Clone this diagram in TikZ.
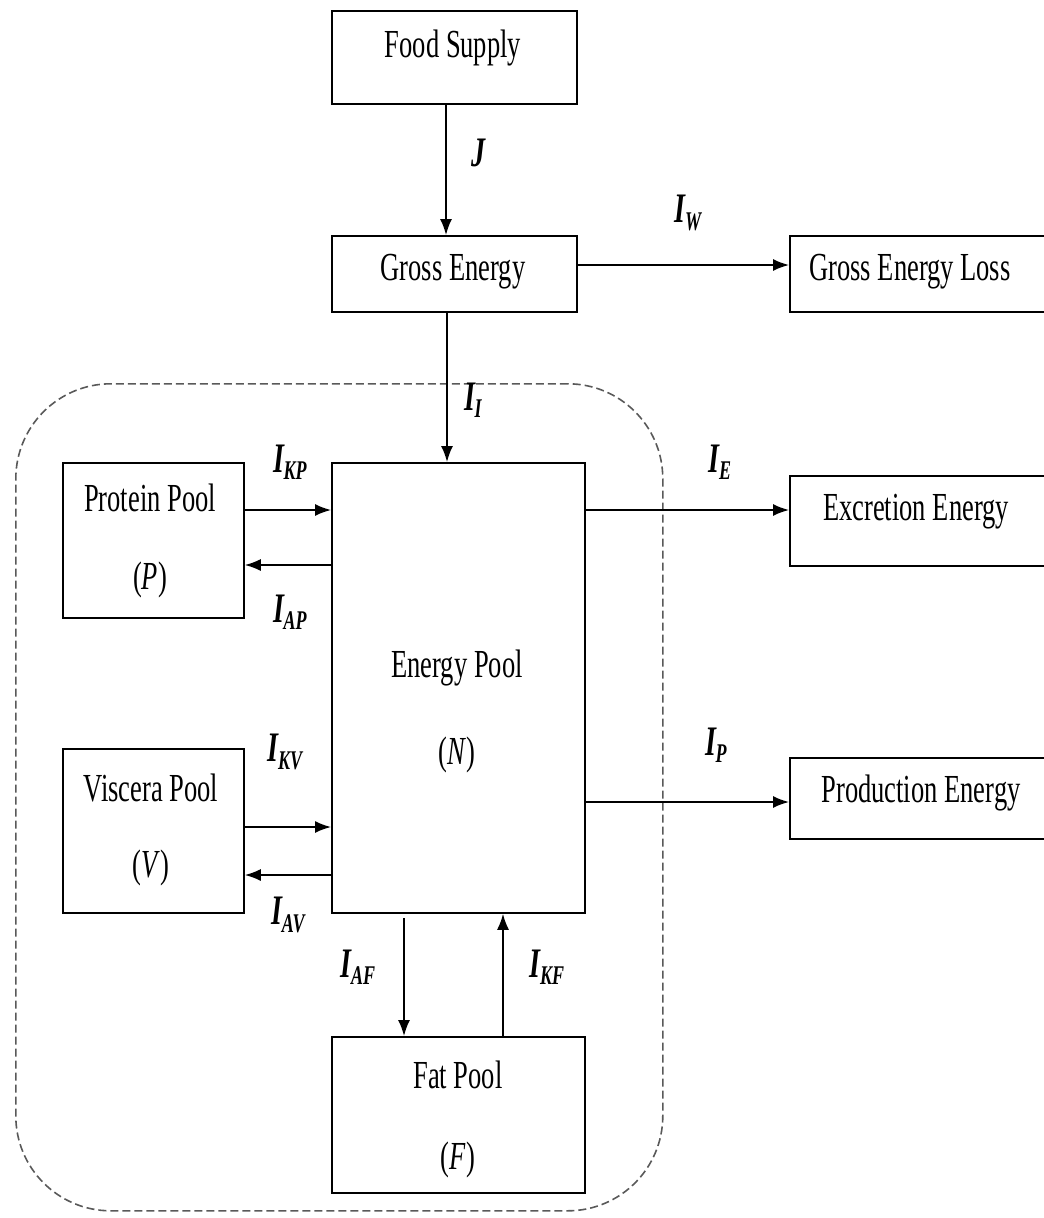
\documentclass[tikz,border=0pt]{standalone}
\usepackage{fontspec}
\setmainfont{Liberation Serif}
\usetikzlibrary{arrows.meta}
\newcommand\tx[1]{\scalebox{1}[1.5]{#1}}
\newcommand\flab[2]{\scalebox{1}[1.5]{\fontsize{28}{30}\selectfont\bfseries\itshape #1\kern-0.5pt\raisebox{-5pt}{\fontsize{18}{18}\selectfont\bfseries\itshape #2}}}
\begin{document}
\begin{tikzpicture}[x=1pt,y=-1pt,
  font=\fontsize{26.5}{30}\selectfont,
  box/.style={draw, line width=1.8pt, inner sep=0pt, anchor=north west},
  txt/.style={inner sep=0pt},
  arr/.style={line width=1.6pt, -{Latex[length=16pt,width=12pt]}},
  grp/.style={draw=black!65, line width=1.6pt, dash pattern=on 8pt off 4pt, rounded corners=95pt, inner sep=0pt, anchor=north west}]
\clip (0,0) rectangle (1044,1218);
% group
\node[grp, minimum width=647pt, minimum height=827pt] (group) at (15,383) {};
% boxes
\node[box, minimum width=245pt, minimum height=93pt] (food) at (331,10) {};
\node[box, minimum width=245pt, minimum height=76pt] (gross) at (331,235) {};
\node[box, minimum width=270pt, minimum height=76pt] (loss) at (789,235) {};
\node[box, minimum width=253pt, minimum height=450pt] (energy) at (331,462) {};
\node[box, minimum width=181pt, minimum height=155pt] (protein) at (62,462) {};
\node[box, minimum width=181pt, minimum height=164pt] (viscera) at (62,748) {};
\node[box, minimum width=253pt, minimum height=156pt] (fat) at (331,1036) {};
\node[box, minimum width=270pt, minimum height=90pt] (excr) at (789,475) {};
\node[box, minimum width=270pt, minimum height=81pt] (prod) at (789,757) {};
% texts
\node[txt] (tfood) at (453,48) {\tx{Food Supply}};
\node[txt] (tgross) at (453,272) {\tx{Gross Energy}};
\node[txt] (tloss) at (910,272) {\tx{Gross Energy Loss}};
\node[txt] (tenergy) at (457,668) {\tx{Energy Pool}};
\node[txt] (tN) at (457,755) {\tx{(\textit{N})}};
\node[txt] (tprot) at (150,498) {\tx{Protein Pool}};
\node[txt] (tP) at (150,580) {\tx{(\textit{P})}};
\node[txt] (tvisc) at (151,788) {\tx{Viscera Pool}};
\node[txt] (tV) at (151,868) {\tx{(\textit{V})}};
\node[txt] (tfat) at (458,1075) {\tx{Fat Pool}};
\node[txt] (tF) at (458,1160) {\tx{(\textit{F})}};
\node[txt] (texcr) at (916,512) {\tx{Excretion Energy}};
\node[txt] (tprod) at (921,793) {\tx{Production Energy}};
% flow labels
\node[txt] (lJ) at (478,153) {\scalebox{1}[1.5]{\fontsize{28}{30}\selectfont\bfseries\itshape J}};
\node[txt] (lW) at (688,213) {\flab{I}{W}};
\node[txt] (lI) at (473,400) {\flab{I}{I}};
\node[txt] (lKP) at (290,462) {\flab{I}{KP}};
\node[txt] (lAP) at (290,612) {\flab{I}{AP}};
\node[txt] (lKV) at (285,752) {\flab{I}{KV}};
\node[txt] (lAV) at (288,915) {\flab{I}{AV}};
\node[txt] (lAF) at (358,967) {\flab{I}{AF}};
\node[txt] (lKF) at (547,967) {\flab{I}{KF}};
\node[txt] (lE) at (720,462) {\flab{I}{E}};
\node[txt] (lP) at (716,745) {\flab{I}{P}};
% connectors
\draw[arr] (446,0 |- food.south) -- (446,0 |- gross.north);
\draw[arr] (gross.east |- 0,265) -- (loss.west |- 0,265);
\draw[arr] (447,0 |- gross.south) -- (447,0 |- energy.north);
\draw[arr] (protein.east |- 0,510) -- (energy.west |- 0,510);
\draw[arr] (energy.west |- 0,565) -- (protein.east |- 0,565);
\draw[arr] (viscera.east |- 0,827) -- (energy.west |- 0,827);
\draw[arr] (energy.west |- 0,875) -- (viscera.east |- 0,875);
\draw[arr] (404,918) -- (404,0 |- fat.north);
\draw[arr] (503,0 |- fat.north) -- (503,0 |- energy.south);
\draw[arr] (energy.east |- 0,510) -- (excr.west |- 0,510);
\draw[arr] (energy.east |- 0,802) -- (prod.west |- 0,802);
\end{tikzpicture}
\end{document}
